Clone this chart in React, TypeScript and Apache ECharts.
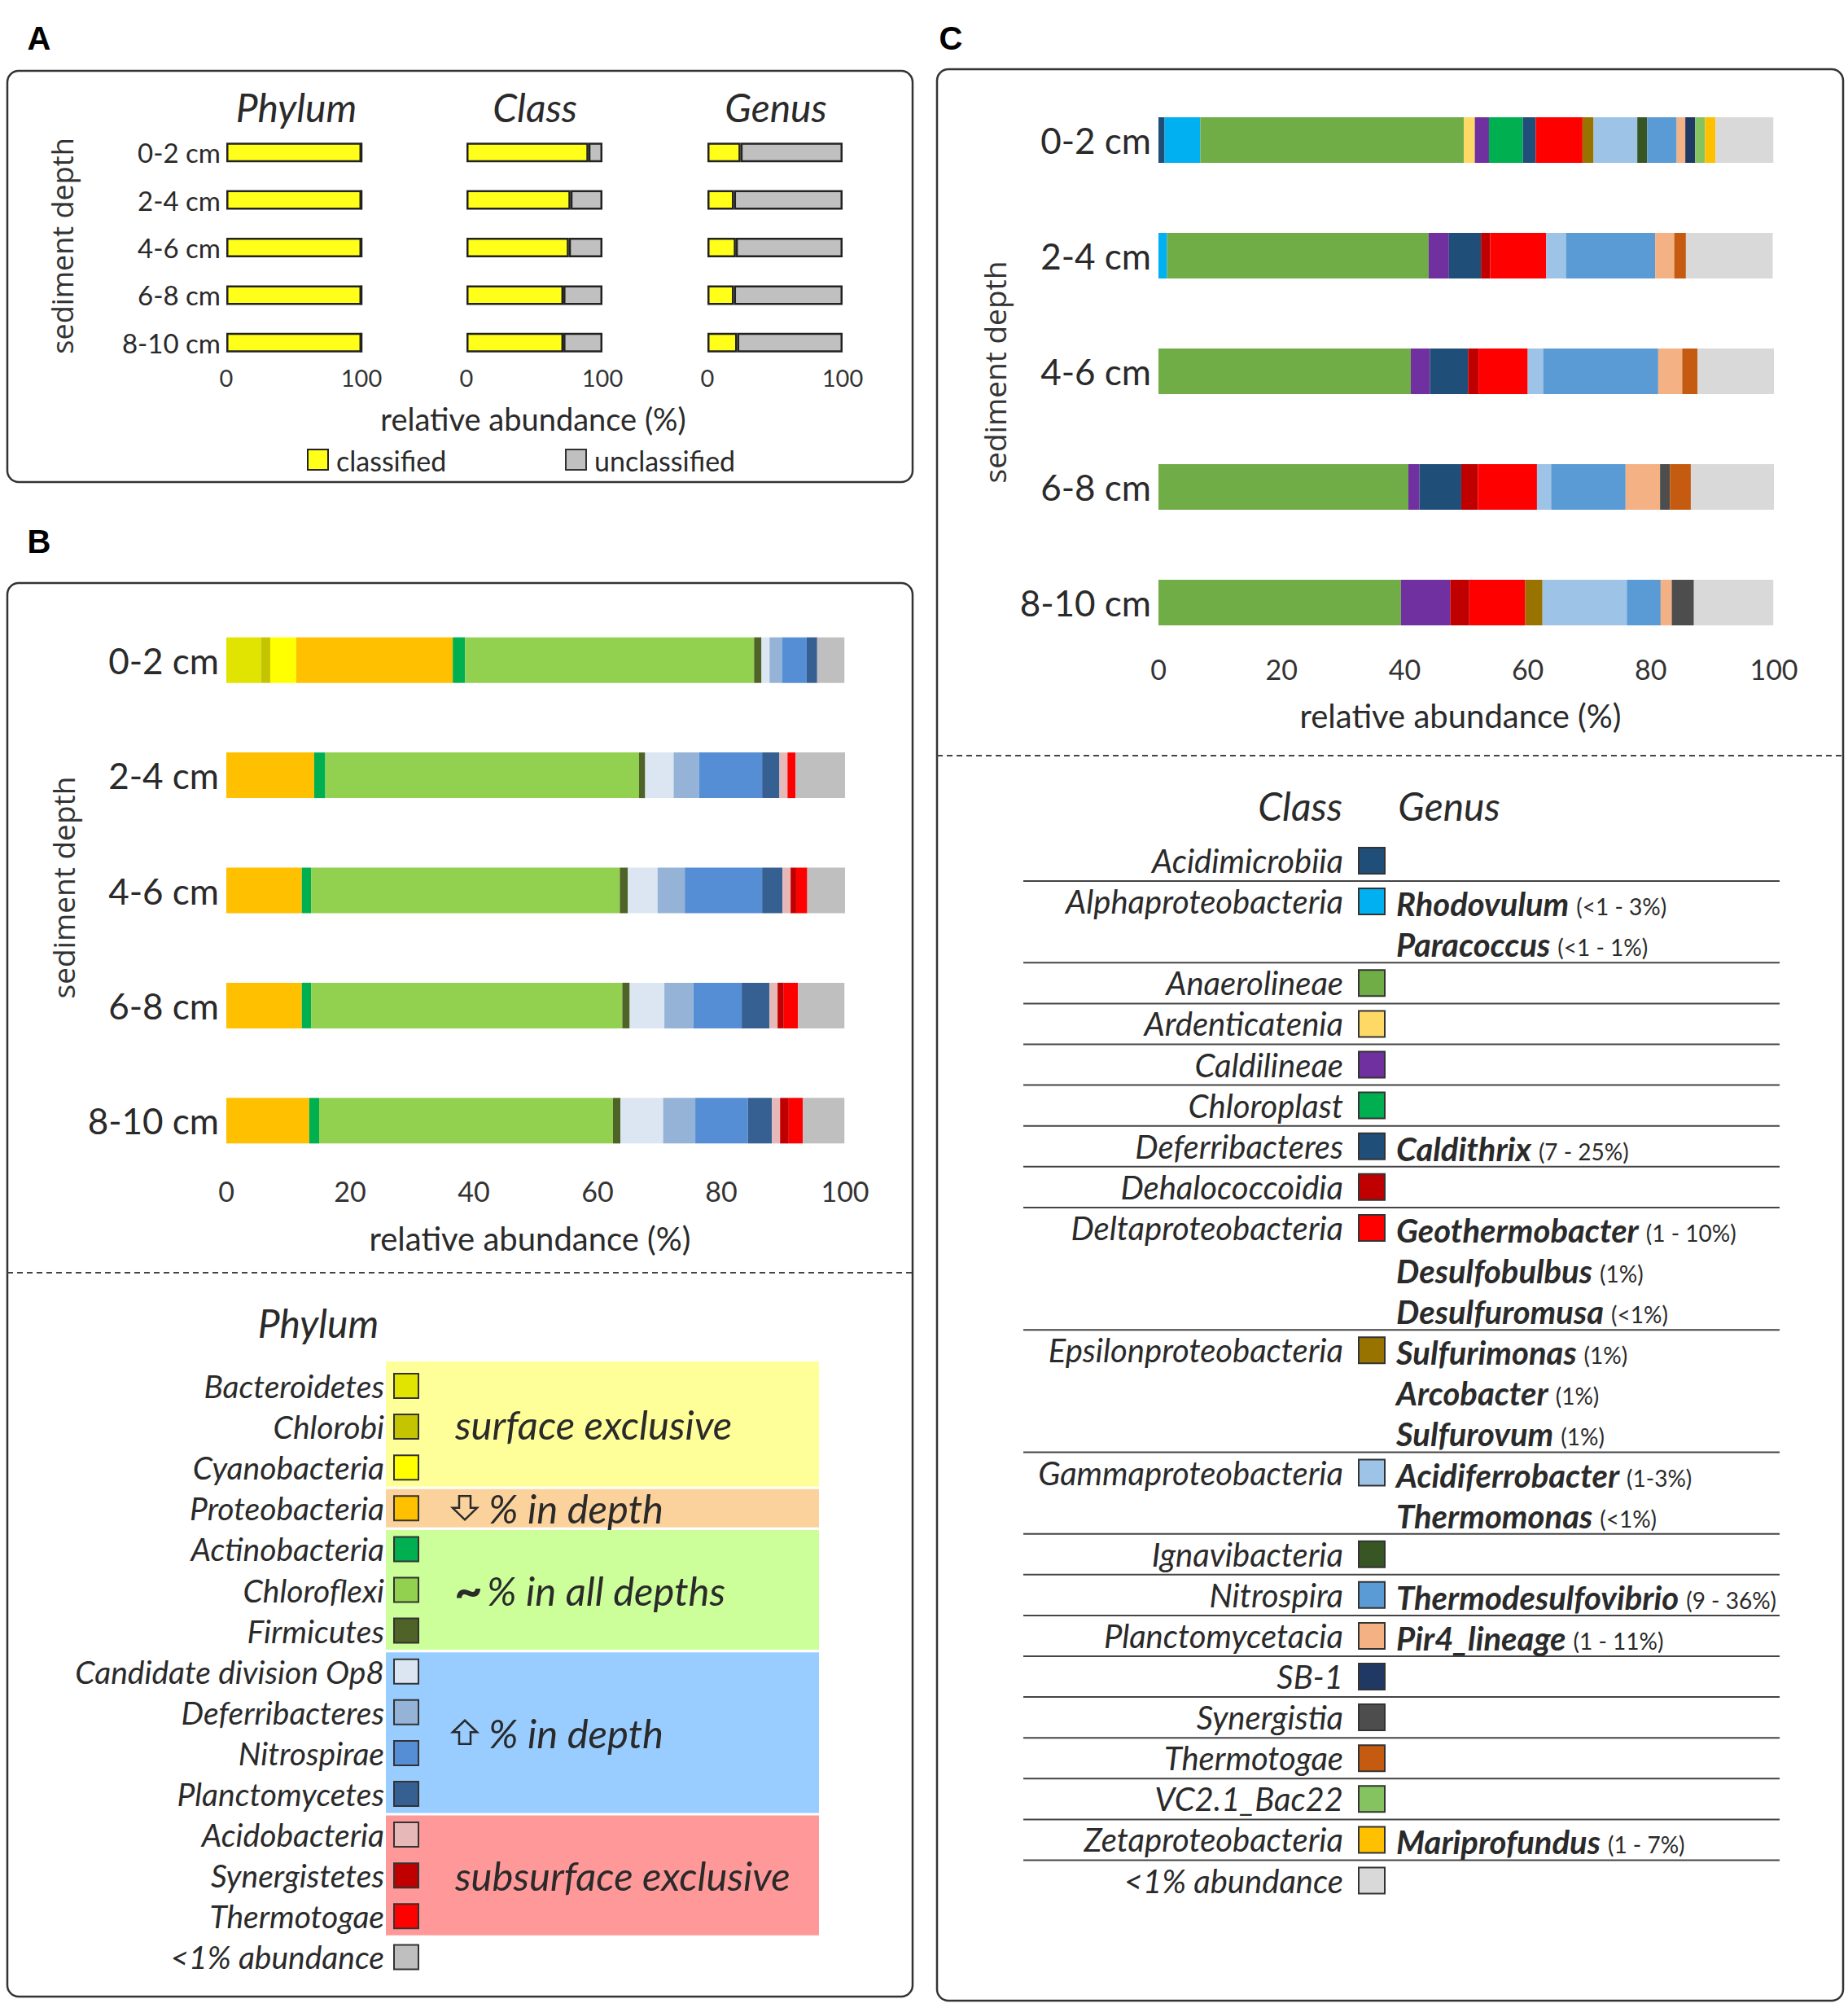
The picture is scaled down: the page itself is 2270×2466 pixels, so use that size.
import React, { useEffect, useRef } from 'react';
import * as echarts from 'echarts';

// ---------------- data ----------------
const depths = ['0-2 cm', '2-4 cm', '4-6 cm', '6-8 cm', '8-10 cm'];
const xTicksA = [0, 100];

// Panel A: classified vs unclassified (%)
const phylumClassified = [100, 100, 100, 100, 100];
const phylumUnclassified = [0, 0, 0, 0, 0];
const classClassified = [89.7, 76.5, 75.3, 71.3, 71.3];
const classUnclassified = [10.3, 23.5, 24.7, 28.7, 28.7];
const genusClassified = [24.5, 19.6, 21.0, 19.6, 22.0];
const genusUnclassified = [75.5, 80.4, 79.0, 80.4, 78.0];

// Panel B: phyla (%)
const bacteroidetes = [5.6, 0, 0, 0, 0];
const chlorobi = [1.5, 0, 0, 0, 0];
const cyanobacteria = [4.2, 0, 0, 0, 0];
const proteobacteria = [25.3, 14.2, 12.2, 12.2, 13.4];
const actinobacteria = [2.0, 1.8, 1.5, 1.5, 1.6];
const chloroflexi = [46.7, 50.7, 49.9, 50.3, 47.5];
const firmicutes = [1.2, 1.0, 1.3, 1.2, 1.2];
const op8 = [1.3, 4.6, 4.8, 5.6, 6.9];
const deferribacteresP = [2.0, 4.1, 4.4, 4.7, 5.2];
const nitrospirae = [4.0, 10.2, 12.5, 7.8, 8.5];
const planctomycetes = [1.7, 2.8, 3.3, 4.5, 3.9];
const acidobacteria = [0, 1.3, 1.3, 1.3, 1.3];
const synergistetes = [0, 0, 0.9, 1.0, 1.4];
const thermotogaeP = [0, 1.3, 1.8, 2.3, 2.3];
const lowPhylum = [4.4, 8.0, 6.1, 7.5, 6.7];

// Panel C: classes (%)
const acidimicrobiia = [1.0, 0, 0, 0, 0];
const alphaproteobacteria = [5.8, 1.4, 0, 0, 0];
const anaerolineae = [42.8, 42.5, 41.0, 40.6, 39.4];
const ardenticatenia = [1.8, 0, 0, 0, 0];
const caldilineae = [2.3, 3.3, 3.1, 1.8, 8.0];
const chloroplast = [5.5, 0, 0, 0, 0];
const deferribacteresC = [2.1, 5.2, 6.2, 6.8, 0];
const dehalococcoidia = [0, 1.5, 1.7, 2.7, 3.1];
const deltaproteobacteria = [7.6, 9.1, 8.0, 9.6, 9.1];
const epsilonproteobacteria = [1.8, 0, 0, 0, 2.8];
const gammaproteobacteria = [7.1, 3.2, 2.5, 2.3, 13.7];
const ignavibacteria = [1.6, 0, 0, 0, 0];
const nitrospira = [4.8, 14.5, 18.7, 12.1, 5.5];
const planctomycetacia = [1.4, 3.1, 3.9, 5.6, 1.8];
const sb1 = [1.6, 0, 0, 0, 0];
const synergistia = [0, 0, 0, 1.6, 3.6];
const thermotogaeC = [0, 1.9, 2.5, 3.4, 0];
const vc21 = [1.6, 0, 0, 0, 0];
const zetaproteobacteria = [1.7, 0, 0, 0, 0];
const lowClass = [9.4, 14.1, 12.5, 13.5, 12.9];

const phylumNames = ['Bacteroidetes', 'Chlorobi', 'Cyanobacteria', 'Proteobacteria', 'Actinobacteria', 'Chloroflexi', 'Firmicutes', 'Candidate division Op8', 'Deferribacteres', 'Nitrospirae', 'Planctomycetes', 'Acidobacteria', 'Synergistetes', 'Thermotogae', '<1% abundance'];
const phylumData = [bacteroidetes, chlorobi, cyanobacteria, proteobacteria, actinobacteria, chloroflexi, firmicutes, op8, deferribacteresP, nitrospirae, planctomycetes, acidobacteria, synergistetes, thermotogaeP, lowPhylum];
const phylumColors = ['#e1e300', '#c4c400', '#ffff00', '#ffc000', '#00b050', '#92d050', '#4f6228', '#dce6f2', '#95b3d7', '#558ed5', '#376092', '#e6b9b8', '#c00000', '#ff0000', '#bfbfbf'];

const classNames = ['Acidimicrobiia', 'Alphaproteobacteria', 'Anaerolineae', 'Ardenticatenia', 'Caldilineae', 'Chloroplast', 'Deferribacteres', 'Dehalococcoidia', 'Deltaproteobacteria', 'Epsilonproteobacteria', 'Gammaproteobacteria', 'Ignavibacteria', 'Nitrospira', 'Planctomycetacia', 'SB-1', 'Synergistia', 'Thermotogae', 'VC2.1_Bac22', 'Zetaproteobacteria', '<1% abundance'];
const classData = [acidimicrobiia, alphaproteobacteria, anaerolineae, ardenticatenia, caldilineae, chloroplast, deferribacteresC, dehalococcoidia, deltaproteobacteria, epsilonproteobacteria, gammaproteobacteria, ignavibacteria, nitrospira, planctomycetacia, sb1, synergistia, thermotogaeC, vc21, zetaproteobacteria, lowClass];
const classColors = ['#1f4e79', '#00b0f0', '#70ad47', '#ffd966', '#7030a0', '#00b050', '#1f4e79', '#c00000', '#ff0000', '#997300', '#9dc3e6', '#375623', '#5b9bd5', '#f4b183', '#203864', '#4d4d4d', '#c55a11', '#85c360', '#ffc000', '#d9d9d9'];

// genus legend rows: [class, genus, range]
const genusRows: [string, string, string][] = [
  ['Acidimicrobiia', '', ''],
  ['Alphaproteobacteria', 'Rhodovulum', '(<1 - 3%)'],
  ['', 'Paracoccus', '(<1 - 1%)'],
  ['Anaerolineae', '', ''],
  ['Ardenticatenia', '', ''],
  ['Caldilineae', '', ''],
  ['Chloroplast', '', ''],
  ['Deferribacteres', 'Caldithrix', '(7 - 25%)'],
  ['Dehalococcoidia', '', ''],
  ['Deltaproteobacteria', 'Geothermobacter', '(1 - 10%)'],
  ['', 'Desulfobulbus', '(1%)'],
  ['', 'Desulfuromusa', '(<1%)'],
  ['Epsilonproteobacteria', 'Sulfurimonas', '(1%)'],
  ['', 'Arcobacter', '(1%)'],
  ['', 'Sulfurovum', '(1%)'],
  ['Gammaproteobacteria', 'Acidiferrobacter', '(1-3%)'],
  ['', 'Thermomonas', '(<1%)'],
  ['Ignavibacteria', '', ''],
  ['Nitrospira', 'Thermodesulfovibrio', '(9 - 36%)'],
  ['Planctomycetacia', 'Pir4_lineage', '(1 - 11%)'],
  ['SB-1', '', ''],
  ['Synergistia', '', ''],
  ['Thermotogae', '', ''],
  ['VC2.1_Bac22', '', ''],
  ['Zetaproteobacteria', 'Mariprofundus', '(1 - 7%)'],
  ['<1% abundance', '', ''],
];

// phylum trend groups: [label, first row, last row, marker]
const phylumGroups: [string, number, number, string][] = [
  ['surface exclusive', 0, 2, ''],
  ['% in depth', 3, 3, 'down'],
  ['% in all depths', 4, 6, 'tilde'],
  ['% in depth', 7, 10, 'up'],
  ['subsurface exclusive', 11, 13, ''],
];
const groupColors = ['#ffff99', '#fbd29c', '#ccff99', '#99ccff', '#ff9999'];

// ---------------- styling helpers ----------------
const W = 2270;
const H = 2466;
const FONT = 'Lato, "Noto Sans", sans-serif';
const TXT = '#2a2a2a';

function text(x: number, y: number, s: string, size: number, extra: any = {}) {
  const align = extra.align || 'left';
  const rotation = extra.rotation || 0;
  const ex = { ...extra };
  delete ex.rotation;
  const style: any = {
    text: s,
    fontSize: size,
    fontFamily: FONT,
    fill: TXT,
    align,
    textAlign: align,
    verticalAlign: 'middle',
    textVerticalAlign: 'middle',
    ...ex,
  };
  return { type: 'text', x, y, rotation, style, z: 10 };
}

function arrow(x: number, top: number, h: number, dir: string) {
  // hollow block arrow, width 30
  const w = 30;
  const sh = 8;
  const headH = h * 0.5;
  let pts: number[][];
  if (dir === 'down') {
    const hy = top + h - headH;
    pts = [[x + sh, top], [x + w - sh, top], [x + w - sh, hy], [x + w, hy], [x + w / 2, top + h], [x, hy], [x + sh, hy]];
  } else {
    const hy = top + headH;
    const bot = top + h;
    pts = [[x + sh, bot], [x + w - sh, bot], [x + w - sh, hy], [x + w, hy], [x + w / 2, top], [x, hy], [x + sh, hy]];
  }
  return { type: 'polygon', shape: { points: pts }, style: { fill: 'none', stroke: '#2a2a2a', lineWidth: 2.5 }, z: 10 };
}

function buildOption() {
  const grids = [
    { left: 278, top: 158, width: 166, height: 292 },
    { left: 573, top: 158, width: 167, height: 292 },
    { left: 869, top: 158, width: 166, height: 292 },
    { left: 278, top: 740, width: 760, height: 707 },
    { left: 1423, top: 101, width: 756, height: 710 },
  ];
  const xAxis = grids.map((_, i) => ({
    type: 'value',
    gridIndex: i,
    min: 0,
    max: 100,
    interval: i < 3 ? xTicksA[1] - xTicksA[0] : 20,
    axisLine: { show: false },
    axisTick: { show: false },
    splitLine: { show: false },
    axisLabel: {
      fontSize: i < 3 ? 29 : 34,
      color: '#333',
      fontFamily: FONT,
      margin: i < 3 ? -1 : i === 3 ? -2 : -7,
    },
  }));
  const yAxis = grids.map((_, i) => ({
    type: 'category',
    gridIndex: i,
    data: depths,
    inverse: true,
    axisLine: { show: false },
    axisTick: { show: false },
    axisLabel: {
      show: i === 0 || i >= 3,
      fontSize: i === 0 ? 33 : 44,
      color: '#2a2a2a',
      fontFamily: FONT,
      margin: i === 0 ? 7 : 9,
    },
  }));

  const series: any[] = [];
  const aPairs = [
    [phylumClassified, phylumUnclassified],
    [classClassified, classUnclassified],
    [genusClassified, genusUnclassified],
  ];
  aPairs.forEach((pair, i) => {
    ['classified', 'unclassified'].forEach((nm, j) => {
      series.push({
        type: 'bar',
        name: nm + i,
        stack: 'a' + i,
        xAxisIndex: i,
        yAxisIndex: i,
        barWidth: 24,
        data: pair[j],
        itemStyle: { color: j === 0 ? '#ffff19' : '#c0c0c0', borderColor: '#222', borderWidth: 2.5 },
      });
    });
  });
  phylumData.forEach((d, k) => {
    series.push({
      type: 'bar',
      name: 'P_' + phylumNames[k],
      stack: 'b',
      xAxisIndex: 3,
      yAxisIndex: 3,
      barWidth: 56,
      data: d,
      itemStyle: { color: phylumColors[k] },
    });
  });
  classData.forEach((d, k) => {
    series.push({
      type: 'bar',
      name: 'C_' + classNames[k],
      stack: 'c',
      xAxisIndex: 4,
      yAxisIndex: 4,
      barWidth: 56,
      data: d,
      itemStyle: { color: classColors[k] },
    });
  });

  const g: any[] = [];
  const frame = (x: number, y: number, w: number, h: number) => ({
    type: 'rect',
    shape: { x, y, width: w, height: h, r: 14 },
    style: { fill: 'none', stroke: '#333', lineWidth: 2.5 },
    z: 5,
  });
  g.push(frame(9, 87, 1112, 505));
  g.push(frame(9, 716, 1112, 1736));
  g.push(frame(1151, 85, 1113, 2372));
  const dashed = (x1: number, x2: number, y: number) => ({
    type: 'line',
    shape: { x1, y1: y, x2, y2: y },
    style: { stroke: '#444', lineWidth: 2, lineDash: [7, 5] },
    z: 5,
  });
  g.push(dashed(9, 1121, 1563));
  g.push(dashed(1151, 2264, 928));

  const letter = (x: number, y: number, s: string) =>
    text(x, y, s, 40, { fontFamily: '"Liberation Sans", Arial, sans-serif', fontWeight: 'bold', fill: '#000', align: 'center' });
  g.push(letter(48, 47, 'A'));
  g.push(letter(48, 665, 'B'));
  g.push(letter(1168, 47, 'C'));

  // Panel A texts
  const titleX = [364, 657, 953];
  ['Phylum', 'Class', 'Genus'].forEach((t, i) => g.push(text(titleX[i], 131, t, 48, { fontStyle: 'italic', align: 'center' })));
  g.push(text(76, 302, 'sediment depth', 36, { fontFamily: '"Open Sans", sans-serif', align: 'center', rotation: Math.PI / 2, fill: '#333' }));
  g.push(text(655, 514, 'relative abundance (%)', 38, { align: 'center' }));
  g.push({ type: 'rect', shape: { x: 378, y: 552, width: 25, height: 25 }, style: { fill: '#ffff19', stroke: '#222', lineWidth: 2 }, z: 10 });
  g.push(text(413, 565, 'classified', 34));
  g.push({ type: 'rect', shape: { x: 695, y: 552, width: 25, height: 25 }, style: { fill: '#c0c0c0', stroke: '#333', lineWidth: 2 }, z: 10 });
  g.push(text(730, 565, 'unclassified', 34));

  // Panel B texts
  g.push(text(77, 1090, 'sediment depth', 37, { fontFamily: '"Open Sans", sans-serif', align: 'center', rotation: Math.PI / 2, fill: '#333' }));
  g.push(text(651, 1521, 'relative abundance (%)', 40, { align: 'center' }));
  g.push(text(391, 1624, 'Phylum', 48, { fontStyle: 'italic', align: 'center' }));

  const rowB0 = 1702;
  const rowBStep = 50.1;
  phylumGroups.forEach(([label, r0, r1, mark], i) => {
    const top = rowB0 + r0 * rowBStep - 25 + (i === 0 ? -5 : 1.5);
    const bottom = rowB0 + r1 * rowBStep + 25 - 1.5;
    g.push({ type: 'rect', shape: { x: 474, y: top, width: 532, height: bottom - top }, style: { fill: groupColors[i] }, z: 6 });
    const cy = (top + bottom) / 2;
    if (mark === 'up' || mark === 'down') {
      g.push(arrow(556, cy - 15, 29, mark));
      g.push(text(600, cy, label, 49, { fontStyle: 'italic', fill: '#2a2a2a' }));
    } else if (mark === 'tilde') {
      g.push(text(558, cy - 2, '~', 60, { fontWeight: 'bold', fill: '#2a2a2a' }));
      g.push(text(598, cy, label, 49, { fontStyle: 'italic', fill: '#2a2a2a' }));
    } else {
      g.push(text(559, cy, label, 49, { fontStyle: 'italic', fill: '#2a2a2a' }));
    }
  });
  phylumNames.forEach((nm, k) => {
    const cy = rowB0 + k * rowBStep;
    g.push(text(472, cy, nm, 39, { fontStyle: 'italic', align: 'right' }));
    g.push({ type: 'rect', shape: { x: 484, y: cy - 15, width: 30, height: 30 }, style: { fill: phylumColors[k], stroke: '#333', lineWidth: 2 }, z: 10 });
  });

  // Panel C texts
  g.push(text(1221, 457, 'sediment depth', 37, { fontFamily: '"Open Sans", sans-serif', align: 'center', rotation: Math.PI / 2, fill: '#333' }));
  g.push(text(1794, 879, 'relative abundance (%)', 40, { align: 'center' }));
  g.push(text(1597, 989, 'Class', 48, { fontStyle: 'italic', align: 'center' }));
  g.push(text(1780, 989, 'Genus', 48, { fontStyle: 'italic', align: 'center' }));

  const rowC0 = 1057;
  const rowCStep = 50.1;
  genusRows.forEach(([cls, genus, range], k) => {
    const cy = rowC0 + k * rowCStep;
    if (cls) {
      if (k > 0) {
        g.push({ type: 'line', shape: { x1: 1257, y1: cy - 25, x2: 2186, y2: cy - 25 }, style: { stroke: '#444', lineWidth: 2 }, z: 8 });
      }
      g.push(text(1650, cy, cls, 40, { fontStyle: 'italic', align: 'right' }));
      const ci = classNames.indexOf(cls);
      g.push({ type: 'rect', shape: { x: 1669, y: cy - 16, width: 32, height: 32 }, style: { fill: classColors[ci], stroke: '#333', lineWidth: 2 }, z: 10 });
    }
    if (genus) {
      g.push({
        type: 'text',
        x: 1715,
        y: cy,
        z: 10,
        style: {
          text: '{b|' + genus + '}{r|' + range + '}',
          align: 'left',
          textAlign: 'left',
          verticalAlign: 'middle',
          textVerticalAlign: 'middle',
          fill: TXT,
          fontFamily: FONT,
          rich: {
            b: { fontSize: 40, fontWeight: 'bold', fontStyle: 'italic', fontFamily: FONT, fill: TXT, lineHeight: 46, verticalAlign: 'bottom' },
            r: { fontSize: 28, fontFamily: FONT, fill: TXT, lineHeight: 46, verticalAlign: 'bottom', padding: [0, 0, 3, 9] },
          },
        },
      });
    }
  });

  return {
    animation: false,
    backgroundColor: '#ffffff',
    grid: grids,
    xAxis,
    yAxis,
    series,
    graphic: { elements: g },
  };
}

export default function App() {
  const ref = useRef<HTMLDivElement>(null);
  useEffect(() => {
    document.body.style.margin = '0';
    const chart = echarts.init(ref.current!, null, { renderer: 'svg', width: W, height: H });
    chart.setOption(buildOption() as any);
    return () => chart.dispose();
  }, []);
  return <div ref={ref} style={{ width: W, height: H }} />;
}
